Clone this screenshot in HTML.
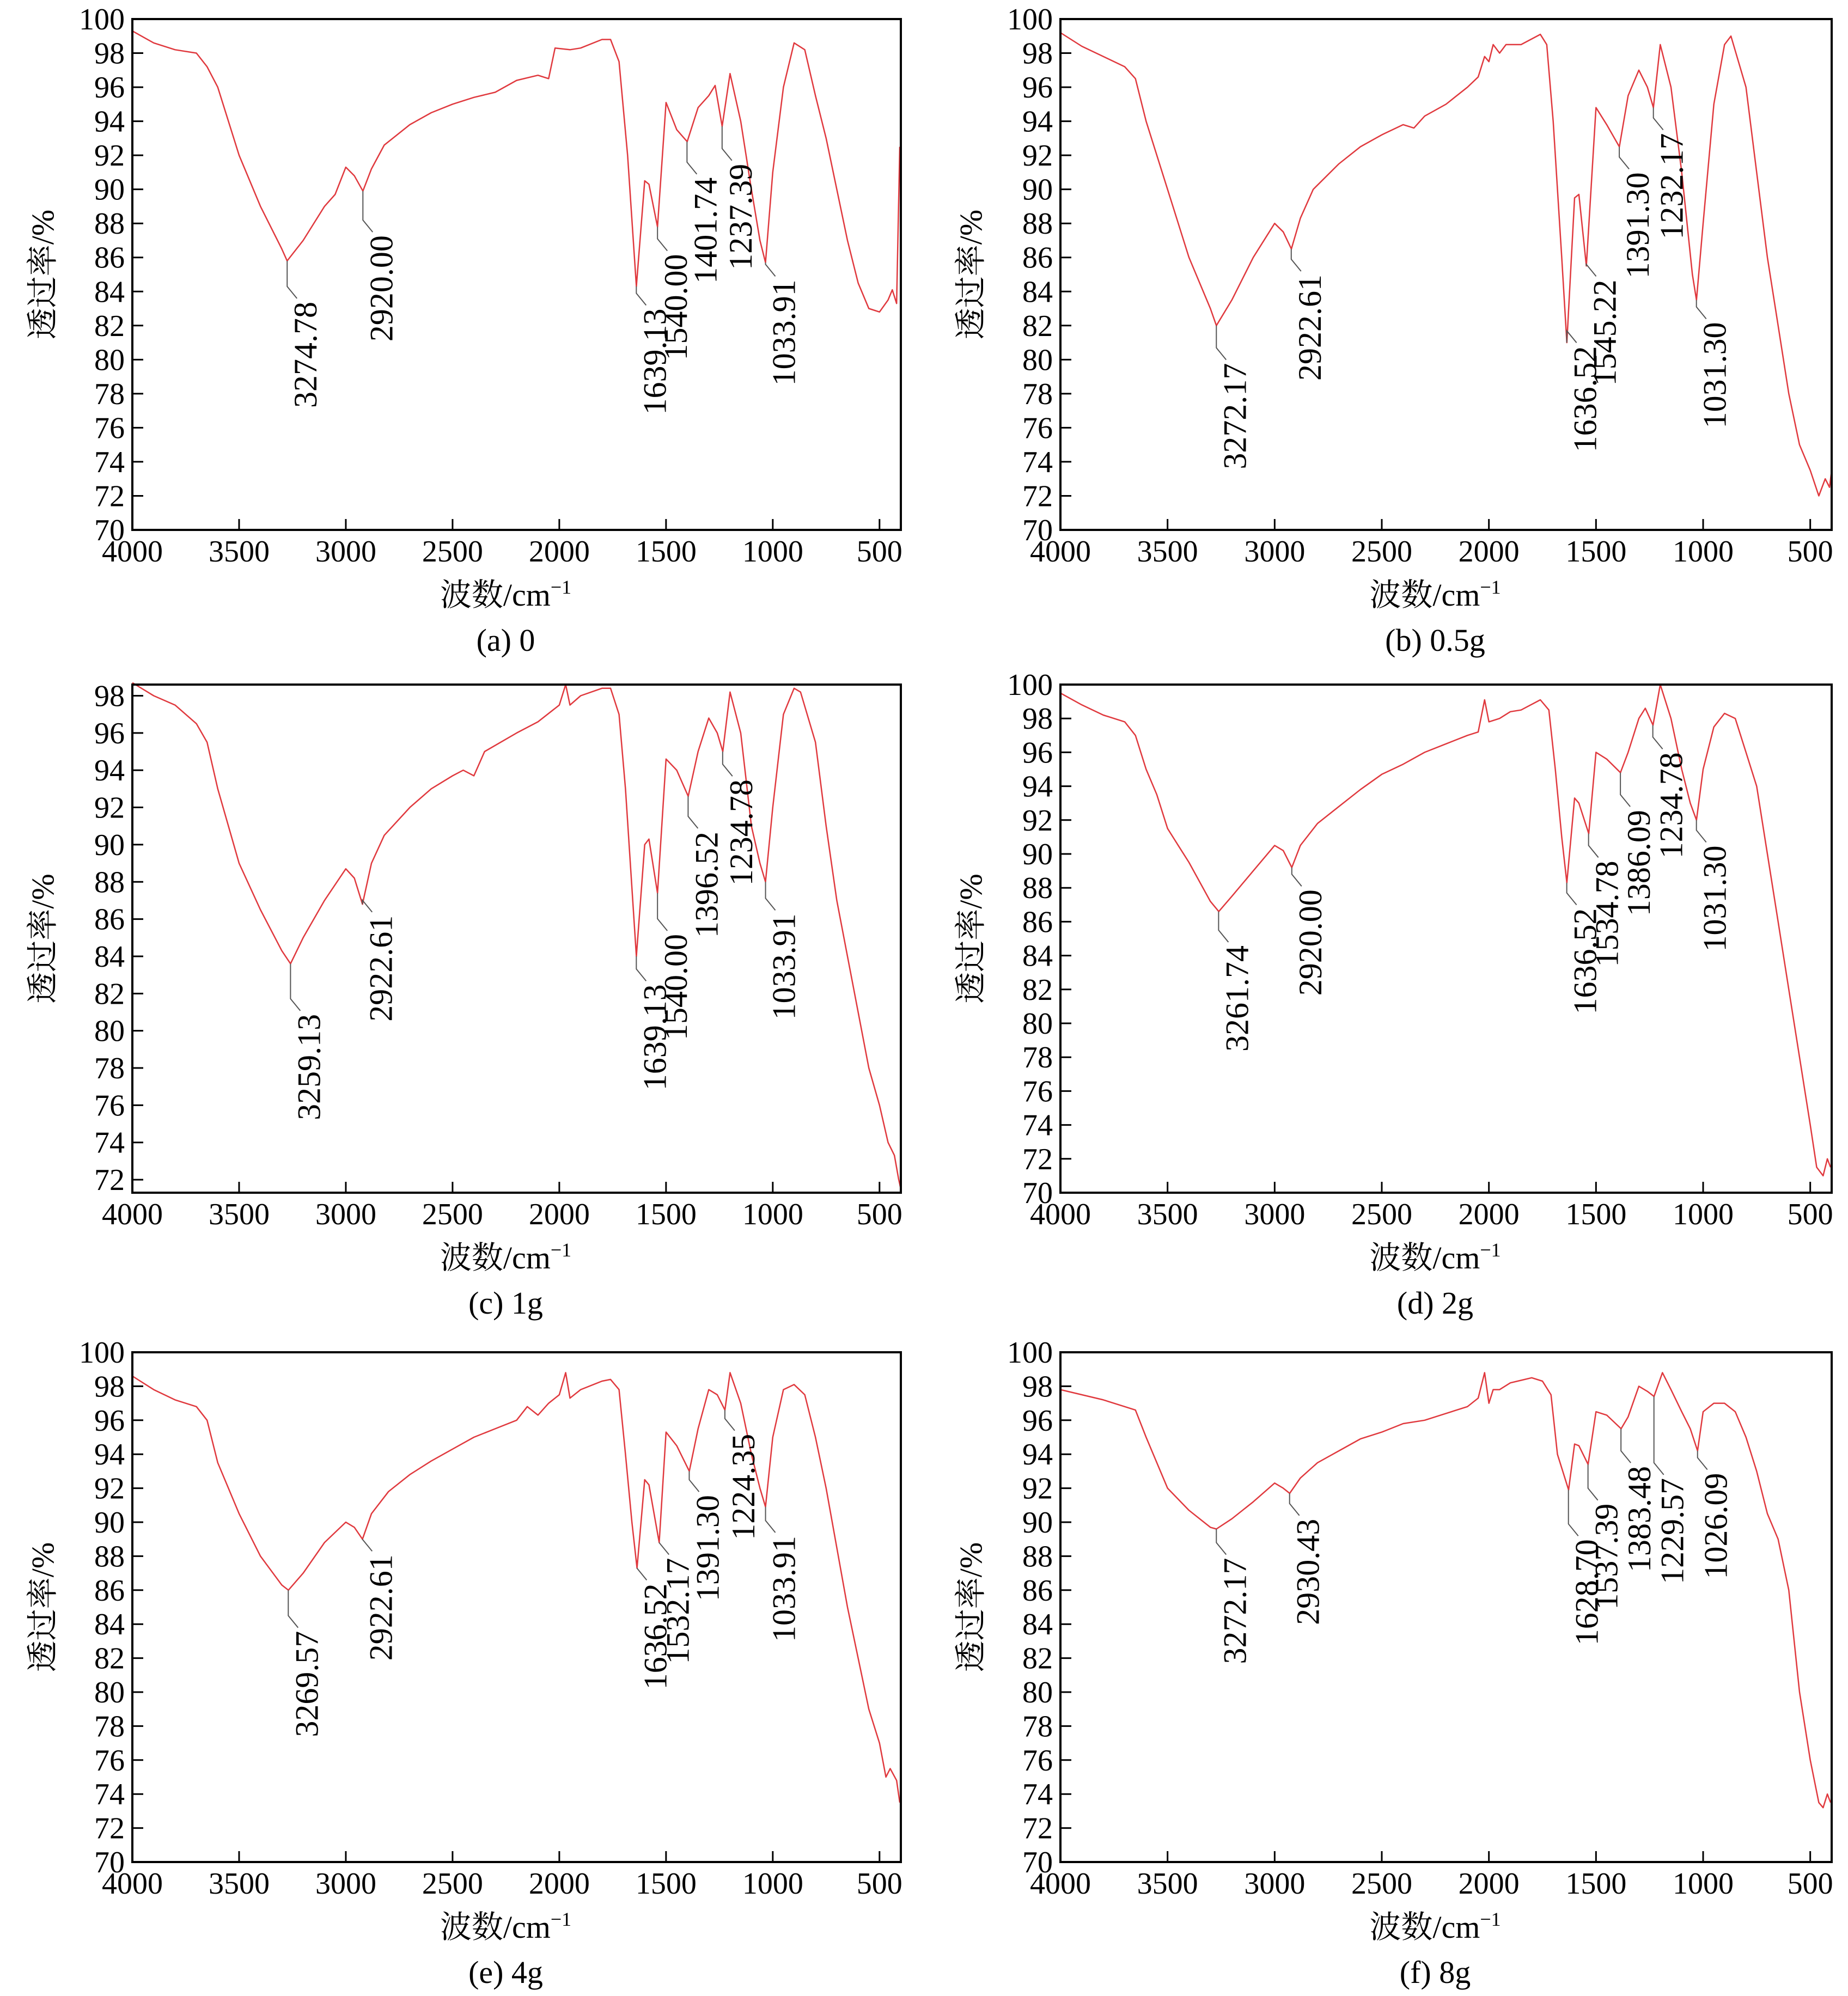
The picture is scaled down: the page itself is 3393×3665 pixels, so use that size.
<!DOCTYPE html>
<html><head><meta charset="utf-8"><style>
html,body{margin:0;padding:0;background:#fff;}
svg{display:block;}
</style></head><body>
<svg id="chart" xmlns="http://www.w3.org/2000/svg" width="3393" height="3665" viewBox="0 0 3393 3665"></svg>
<script>
// ---- Panel (a) 0 ----
const waveA=[4000,3900,3800,3700,3650,3600,3500,3400,3300,3275,3200,3100,3050,3000,2960,2920,2880,2820,2700,2600,2500,2400,2300,2200,2100,2050,2020,1950,1900,1800,1760,1720,1680,1639,1600,1580,1540,1500,1450,1401,1350,1300,1270,1237,1200,1150,1100,1060,1034,1000,950,900,850,800,750,700,650,600,550,500,460,440,420,405];
const transA=[99.3,98.6,98.2,98.0,97.2,96,92,89,86.5,85.8,87,89,89.7,91.3,90.8,89.9,91.2,92.6,93.8,94.5,95,95.4,95.7,96.4,96.7,96.5,98.3,98.2,98.3,98.8,98.8,97.5,92,84.3,90.5,90.3,87.8,95.1,93.5,92.8,94.8,95.5,96.1,93.7,96.8,94,90,87,85.7,91,96,98.6,98.2,95.5,93,90,87,84.5,83,82.8,83.5,84.1,83.3,92.5];
const peakLabelsA=["3274.78","2920.00","1639.13","1540.00","1401.74","1237.39","1033.91"];
const peakWaveA=[3274.78,2920,1639.13,1540,1401.74,1237.39,1033.91];
const peakTransA=[85.8,89.9,84.3,87.8,92.8,93.7,85.7];
const peakLabelTopA=[83.4,87.3,83.0,86.2,90.7,91.5,84.7];
// ---- Panel (b) 0.5g ----
const waveB=[4000,3900,3800,3700,3650,3600,3500,3400,3300,3272,3200,3100,3000,2960,2922,2880,2820,2700,2600,2500,2400,2350,2300,2200,2100,2050,2020,2000,1980,1950,1920,1850,1760,1730,1700,1660,1636,1600,1580,1545,1500,1450,1391,1350,1300,1260,1232,1200,1150,1100,1050,1031,1000,950,900,870,800,750,700,650,600,550,500,460,430,410,400];
const transB=[99.2,98.4,97.8,97.2,96.5,94,90,86,83,82,83.5,86,88,87.5,86.5,88.3,90,91.5,92.5,93.2,93.8,93.6,94.3,95,96,96.6,97.8,97.5,98.5,98,98.5,98.5,99.1,98.5,94,86,81,89.5,89.7,85.5,94.8,93.8,92.5,95.5,97,96,94.8,98.5,96,91,85,83.5,88,95,98.5,99,96,91,86,82,78,75,73.5,72,73,72.5,73.5];
const peakLabelsB=["3272.17","2922.61","1636.52","1545.22","1391.30","1232.17","1031.30"];
const peakWaveB=[3272.17,2922.61,1636.52,1545.22,1391.3,1232.17,1031.3];
const peakTransB=[82,86.5,81,85.5,92.5,94.8,83.5];
const peakLabelTopB=[79.8,85.0,80.8,84.7,91.0,93.3,82.2];
// ---- Panel (c) 1g ----
const waveC=[4000,3900,3800,3700,3650,3600,3500,3400,3300,3259,3200,3100,3000,2960,2922,2880,2820,2700,2600,2500,2450,2400,2350,2200,2100,2000,1970,1950,1900,1800,1760,1720,1690,1639,1600,1580,1540,1500,1450,1396,1350,1300,1260,1234,1200,1150,1100,1060,1034,1000,950,900,870,800,750,700,650,600,550,500,460,430,410,400];
const transC=[98.7,98,97.5,96.5,95.5,93,89,86.5,84.3,83.6,85,87,88.7,88.2,86.8,89,90.5,92,93,93.7,94,93.7,95,96,96.6,97.5,98.6,97.5,98,98.4,98.4,97,93,84.0,90,90.3,87.4,94.6,94,92.6,95,96.8,96,95,98.2,96,91,89,88,92,97,98.4,98.2,95.5,91,87,84,81,78,76,74,73.3,72,71.5];
const peakLabelsC=["3259.13","2922.61","1639.13","1540.00","1396.52","1234.78","1033.91"];
const peakWaveC=[3259.13,2922.61,1639.13,1540,1396.52,1234.78,1033.91];
const peakTransC=[83.6,86.8,84.0,87.4,92.6,95,88];
const peakLabelTopC=[80.9,86.2,82.5,85.2,90.7,93.5,86.3];
// ---- Panel (d) 2g ----
const waveD=[4000,3900,3800,3700,3650,3600,3550,3500,3450,3400,3300,3261,3200,3100,3000,2960,2920,2880,2800,2700,2600,2500,2400,2300,2200,2100,2050,2020,2000,1950,1900,1850,1760,1720,1690,1660,1636,1600,1580,1534,1500,1450,1386,1350,1300,1270,1234,1200,1150,1100,1060,1031,1000,950,900,850,800,750,700,650,600,550,500,470,440,420,405];
const transD=[99.5,98.8,98.2,97.8,97,95,93.5,91.5,90.5,89.5,87.2,86.6,87.5,89,90.5,90.2,89.2,90.5,91.8,92.8,93.8,94.7,95.3,96,96.5,97,97.2,99.1,97.8,98,98.4,98.5,99.1,98.5,95,91,88.3,93.3,93,91.2,96,95.6,94.8,96,98,98.6,97.6,100,98,95,93,92,95,97.5,98.3,98,96,94,90,86,82,78,74,71.5,71,72,71.5];
const peakLabelsD=["3261.74","2920.00","1636.52","1534.78","1386.09","1234.78","1031.30"];
const peakWaveD=[3261.74,2920,1636.52,1534.78,1386.09,1234.78,1031.3];
const peakTransD=[86.6,89.2,88.3,91.2,94.8,97.6,92];
const peakLabelTopD=[84.6,87.9,86.8,89.6,92.6,96.0,90.5];
// ---- Panel (e) 4g ----
const waveE=[4000,3900,3800,3700,3650,3600,3500,3400,3300,3269,3200,3100,3000,2960,2922,2880,2800,2700,2600,2500,2400,2300,2200,2150,2100,2050,2000,1970,1950,1900,1800,1760,1720,1690,1660,1636,1600,1580,1532,1500,1450,1391,1350,1300,1260,1224,1200,1150,1100,1060,1034,1000,950,900,850,800,750,700,650,600,550,500,470,450,420,405];
const transE=[98.6,97.8,97.2,96.8,96,93.5,90.5,88,86.3,86,87,88.8,90,89.7,89,90.5,91.8,92.8,93.6,94.3,95,95.5,96,96.8,96.3,97,97.5,98.8,97.3,97.8,98.3,98.4,97.8,94,90,87.3,92.5,92.2,88.8,95.3,94.5,93,95.5,97.8,97.5,96.6,98.8,97,94,92,90.9,95,97.8,98.1,97.5,95,92,88.5,85,82,79,77,75,75.5,74.8,73.5];
const peakLabelsE=["3269.57","2922.61","1636.52","1532.17","1391.30","1224.35","1033.91"];
const peakWaveE=[3269.57,2922.61,1636.52,1532.17,1391.3,1224.35,1033.91];
const peakTransE=[86,89,87.3,88.8,93,96.6,90.9];
const peakLabelTopE=[83.6,88.1,86.4,87.9,91.6,95.2,89.2];
// ---- Panel (f) 8g ----
const waveF=[4000,3900,3800,3700,3650,3600,3500,3400,3300,3272,3200,3100,3000,2960,2930,2880,2800,2700,2600,2500,2400,2300,2200,2100,2050,2020,2000,1980,1950,1900,1800,1750,1710,1680,1628,1600,1580,1537,1500,1450,1383,1350,1300,1260,1229,1190,1150,1100,1060,1026,1000,950,900,850,800,750,700,650,600,550,500,460,440,420,405];
const transF=[97.8,97.5,97.2,96.8,96.6,95,92,90.7,89.7,89.6,90.2,91.2,92.3,92,91.7,92.6,93.5,94.2,94.9,95.3,95.8,96,96.4,96.8,97.3,98.8,97,97.8,97.8,98.2,98.5,98.3,97.5,94,91.9,94.6,94.5,93.4,96.5,96.3,95.5,96.2,98,97.7,97.4,98.8,97.8,96.5,95.5,94.2,96.5,97,97,96.5,95,93,90.5,89,86,80,76,73.5,73.2,74,73.5];
const peakLabelsF=["3272.17","2930.43","1628.70","1537.39","1383.48","1229.57","1026.09"];
const peakWaveF=[3272.17,2930.43,1628.7,1537.39,1383.48,1229.57,1026.09];
const peakTransF=[89.6,91.7,91.9,93.4,95.5,97.4,94.2];
const peakLabelTopF=[87.9,90.2,89.0,91.1,93.3,92.6,92.9];

const xTickLabels=["4000","3500","3000","2500","2000","1500","1000","500"];
const xTickValues=[4000,3500,3000,2500,2000,1500,1000,500];
const captions=["(a) 0","(b) 0.5g","(c) 1g","(d) 2g","(e) 4g","(f) 8g"];

const NS="http://www.w3.org/2000/svg";
const svg=document.getElementById('chart');
const FONT='"Liberation Serif","Noto Serif CJK SC",serif';
function mk(tag,attrs,parent){const e=document.createElementNS(NS,tag);for(const k in attrs)e.setAttribute(k,attrs[k]);(parent||svg).appendChild(e);return e;}

const cols=[[243,1654],[1947,3363]];
const rows=[[35,973],[1257,2190],[2483,3419]];
const panels=[
 {w:waveA,t:transA,pl:peakLabelsA,pw:peakWaveA,pt:peakTransA,ptop:peakLabelTopA,ymin:70,ymax:100,ticks:[70,100]},
 {w:waveB,t:transB,pl:peakLabelsB,pw:peakWaveB,pt:peakTransB,ptop:peakLabelTopB,ymin:70,ymax:100,ticks:[70,100]},
 {w:waveC,t:transC,pl:peakLabelsC,pw:peakWaveC,pt:peakTransC,ptop:peakLabelTopC,ymin:71.3,ymax:98.6,ticks:[72,98]},
 {w:waveD,t:transD,pl:peakLabelsD,pw:peakWaveD,pt:peakTransD,ptop:peakLabelTopD,ymin:70,ymax:100,ticks:[70,100]},
 {w:waveE,t:transE,pl:peakLabelsE,pw:peakWaveE,pt:peakTransE,ptop:peakLabelTopE,ymin:70,ymax:100,ticks:[70,100]},
 {w:waveF,t:transF,pl:peakLabelsF,pw:peakWaveF,pt:peakTransF,ptop:peakLabelTopF,ymin:70,ymax:100,ticks:[70,100]}
];
const letters=['a','b','c','d','e','f'];

panels.forEach((p,i)=>{
  const L=cols[i%2][0],R=cols[i%2][1],T=rows[Math.floor(i/2)][0],B=rows[Math.floor(i/2)][1];
  const xs=v=>L+(4000-v)/3600*(R-L);
  const ys=v=>B-(v-p.ymin)/(p.ymax-p.ymin)*(B-T);
  const g=mk('g',{});
  
  
  // spectrum
  let d='';p.w.forEach((w,k)=>{d+=(k?'L':'M')+xs(w).toFixed(1)+','+ys(p.t[k]).toFixed(1);});
  const path=mk('path',{d:d,fill:'none',stroke:'#e0393e','stroke-width':2.5,'stroke-linejoin':'round'},g);
  
  
  // frame
  const fr=mk('rect',{x:L,y:T,width:R-L,height:B-T,fill:'none',stroke:'#000','stroke-width':4},g);
  
  
  // y ticks
  for(let v=p.ticks[0];v<=p.ticks[1];v+=2){
    const y=ys(v);
    mk('line',{x1:L,x2:L+20,y1:y,y2:y,stroke:'#000','stroke-width':3},g);
    const tx=mk('text',{x:L-14,y:y+19,'text-anchor':'end','font-size':56,'font-family':FONT,fill:'#000'},g);
    
    
    tx.textContent=String(v);
  }
  // x ticks
  xTickValues.forEach((v,k)=>{
    const x=xs(v);
    mk('line',{x1:x,x2:x,y1:B,y2:B-20,stroke:'#000','stroke-width':3},g);
    const tx=mk('text',{x:x,y:B+58,'text-anchor':'middle','font-size':56,'font-family':FONT,fill:'#000'},g);
    
    
    tx.textContent=xTickLabels[k];
  });
  // peak annotations
  p.pw.forEach((w,k)=>{
    const x=xs(w),y0=ys(p.pt[k]),yt=ys(p.ptop[k]);
    const ln=mk('polyline',{points:`${x},${y0} ${x},${yt-28} ${x+18},${yt-6}`,fill:'none',stroke:'#555','stroke-width':2},g);
    
    
    const tx=mk('text',{transform:`translate(${x+34},${yt}) rotate(-90)`,'text-anchor':'end','dominant-baseline':'central','font-size':60,'font-family':FONT,fill:'#000'},g);
    
    
    tx.textContent=p.pl[k];
  });
  // axis titles
  const cx=(L+R)/2-20;
  const xt=mk('text',{x:cx,y:B+139,'text-anchor':'middle','font-size':58,'font-family':FONT,fill:'#000'},g);
  
  
  xt.innerHTML='波数/cm<tspan dy="-22" font-size="36">−1</tspan>';
  const yl=mk('text',{transform:`translate(${L-145},${(T+B)/2}) rotate(-90)`,'text-anchor':'middle','font-size':58,'font-family':FONT,fill:'#000'},g);
  
  
  yl.textContent='透过率/%';
  const cap=mk('text',{x:cx,y:B+222,'text-anchor':'middle','font-size':58,'font-family':FONT,fill:'#000'},g);
  
  
  cap.textContent=captions[i];
});
</script>
</body></html>
